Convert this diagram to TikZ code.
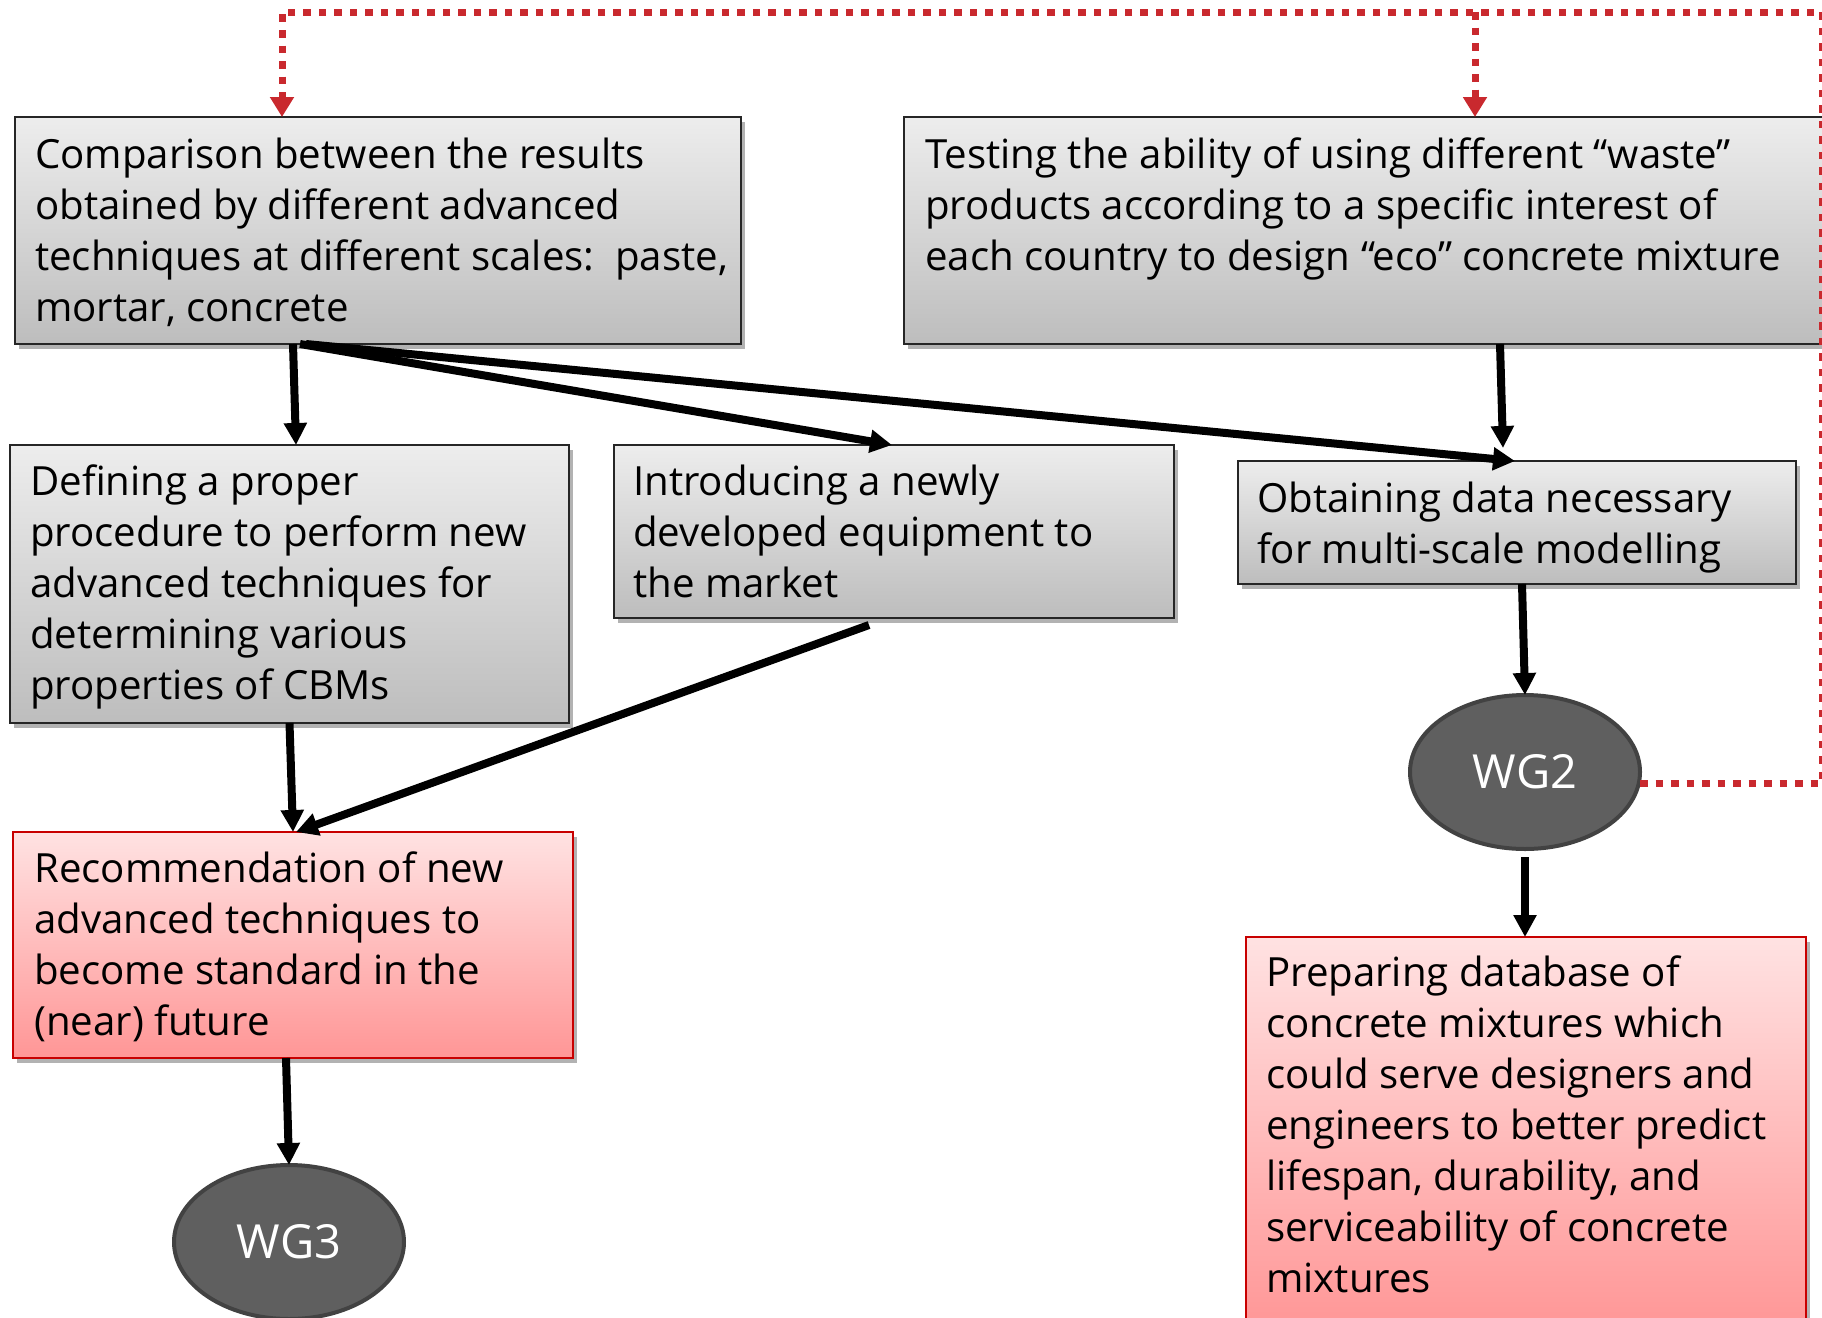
\documentclass[tikz,border=0pt]{standalone}
\usepackage{fontspec}
\setmainfont{Open Sans}
\usetikzlibrary{arrows.meta,shapes.geometric,shadows}
\definecolor{reddot}{RGB}{201,41,46}
\definecolor{boxtop}{RGB}{237,237,237}
\definecolor{boxbot}{RGB}{189,189,189}
\definecolor{redtop}{RGB}{255,226,226}
\definecolor{redbot}{RGB}{255,150,150}
\definecolor{redline}{RGB}{200,0,0}
\definecolor{wgfill}{RGB}{95,95,95}
\definecolor{wgline}{RGB}{66,66,66}
\newcommand\firstline{\rule{0pt}{36pt}}
\begin{document}
\begin{tikzpicture}[x=1pt,y=-1pt,
  boxshadow/.style={drop shadow={shadow xshift=4pt,shadow yshift=-5pt,opacity=0.3,fill=black}},
  graybox/.style={rectangle,draw=black!85,line width=2pt,top color=boxtop,bottom color=boxbot,inner sep=0pt,outer sep=0pt,boxshadow},
  redbox/.style={rectangle,draw=redline,line width=2pt,top color=redtop,bottom color=redbot,inner sep=0pt,outer sep=0pt,boxshadow},
  wg/.style={ellipse,fill=wgfill,draw=wgline,line width=4pt,text=white,inner sep=0pt,outer sep=0pt,minimum width=230pt,minimum height=154pt,font=\fontsize{47}{50}\selectfont},
  txt/.style={anchor=north west,inner sep=0pt,align=left,font=\fontsize{40.2}{51}\selectfont},
  blk/.style={line width=8pt,-{Triangle[length=22pt,width=22pt]}},
  reddash/.style={draw=reddot,line width=7pt,dash pattern=on 7.5pt off 8pt,-{Triangle[length=20pt,width=23pt]}}]
\useasboundingbox (0,0) rectangle (1822,1317);
\fill[white] (0,0) rectangle (1822,1317);
\clip (0,0) rectangle (1822,1317);

% boxes
\node[graybox,minimum width=726pt,minimum height=227pt] (comp) at (378,230.5) {};
\node[graybox,minimum width=926pt,minimum height=227pt] (test) at (1367,230.5) {};
\node[graybox,minimum width=559pt,minimum height=278pt] (defn) at (289.5,584) {};
\node[graybox,minimum width=560pt,minimum height=173pt] (intro) at (894,531.5) {};
\node[graybox,minimum width=558pt,minimum height=123pt] (obtain) at (1517,522.5) {};
\node[redbox,minimum width=560pt,minimum height=226pt] (rec) at (293,945) {};
\node[redbox,minimum width=560pt,minimum height=393pt] (prep) at (1526,1133.5) {};
\node[wg] (wg2) at (1525,772) {WG2};
\node[wg] (wg3) at (289,1242) {WG3};

% texts
\node[txt] (tcomp) at ([xshift=20pt,yshift=-15pt]comp.north west) {\firstline Comparison between the results\\ obtained by different advanced\\ techniques at different scales:\ \ paste,\\ mortar, concrete};
\node[txt] (ttest) at ([xshift=21pt,yshift=-15pt]test.north west) {\firstline Testing the ability of using different “waste”\\ products according to a specific interest of\\ each country to design “eco” concrete mixture};
\node[txt] (tdefn) at ([xshift=20pt,yshift=-14pt]defn.north west) {\firstline Defining a proper\\ procedure to perform new\\ advanced techniques for\\ determining various\\ properties of CBMs};
\node[txt] (tintro) at ([xshift=19pt,yshift=-14pt]intro.north west) {\firstline Introducing a newly\\ developed equipment to\\ the market};
\node[txt] (tobtain) at ([xshift=19pt,yshift=-15pt]obtain.north west) {\firstline Obtaining data necessary\\ for multi-scale modelling};
\node[txt] (trec) at ([xshift=21pt,yshift=-14pt]rec.north west) {\firstline Recommendation of new\\ advanced techniques to\\ become standard in the\\ (near) future};
\node[txt] (tprep) at ([xshift=20pt,yshift=-13pt]prep.north west) {\firstline Preparing database of\\ concrete mixtures which\\ could serve designers and\\ engineers to better predict\\ lifespan, durability, and\\ serviceability of concrete\\ mixtures};

% black arrows
\draw[blk] ([xshift=278pt]comp.south west) -- ([xshift=286pt]defn.north west);
\draw[blk] ([xshift=285pt]comp.south west) -- ([xshift=278pt]intro.north west);
\draw[blk] ([xshift=291pt]comp.south west) -- ([xshift=277pt]obtain.north west);
\draw[blk] ([xshift=596pt]test.south west) -- ([xshift=265pt,yshift=13pt]obtain.north west);
\draw[blk] ([xshift=284pt]obtain.south west) -- (wg2.north);
\draw[blk] ([yshift=-8pt]wg2.south) -- ([xshift=-1pt]prep.north);
\draw[blk] (defn.south) -- (rec.north);
\draw[blk] ([xshift=255pt,yshift=-7pt]intro.south west) -- ([xshift=3pt]rec.north);
\draw[blk] ([xshift=-7pt]rec.south) -- (wg3.north);

% red dotted feedback
\coordinate (c1) at (1822,783);
\coordinate (c2) at (1822,12);
\coordinate (c3) at (282,12);
\coordinate (c4) at (1475,12);
\draw[reddash] ([yshift=-11pt]wg2.east) -- (c1) -- (c2) -- (c3) -- (c3 |- comp.north);
\draw[reddash] (c4) -- (c4 |- test.north);
\end{tikzpicture}
\end{document}
